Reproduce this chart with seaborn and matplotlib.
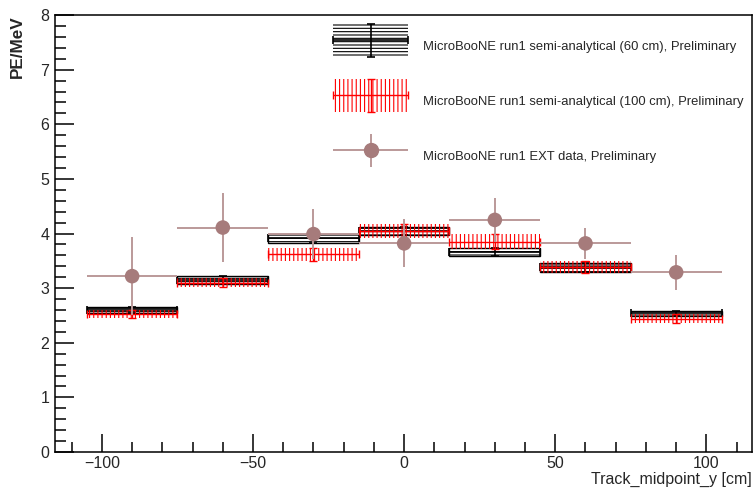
import numpy as np
import pandas as pd
import seaborn as sns
import matplotlib.pyplot as plt
from matplotlib.patches import Patch, Rectangle
from matplotlib.lines import Line2D
from matplotlib.ticker import MultipleLocator
from matplotlib.container import ErrorbarContainer
from matplotlib.legend_handler import HandlerErrorbar, HandlerPatch

# bin centres of Track_midpoint_y [cm], 30 cm wide
bin_centers = [-90, -60, -30, 0, 30, 60, 90]
bin_half = 15

# MicroBooNE run1 semi-analytical (60 cm)
sa60_y = [2.60, 3.15, 3.91, 4.05, 3.66, 3.38, 2.54]
sa60_err = [0.05, 0.08, 0.09, 0.07, 0.07, 0.08, 0.05]

# MicroBooNE run1 semi-analytical (100 cm)
sa100_y = [2.53, 3.10, 3.62, 4.05, 3.85, 3.38, 2.44]
sa100_err = [0.07, 0.08, 0.12, 0.13, 0.14, 0.11, 0.08]

# MicroBooNE run1 EXT data
ext_y = [3.22, 4.11, 3.99, 3.82, 4.25, 3.82, 3.29]
ext_err = [0.72, 0.63, 0.46, 0.44, 0.40, 0.29, 0.32]

labels = [
    "MicroBooNE run1 semi-analytical (60 cm), Preliminary",
    "MicroBooNE run1 semi-analytical (100 cm), Preliminary",
    "MicroBooNE run1 EXT data, Preliminary",
]

ext_df = pd.DataFrame({"x": bin_centers, "y": ext_y})

sns.set_style("white")
plt.rcParams["font.family"] = ["Liberation Sans", "DejaVu Sans"]
plt.rcParams["hatch.linewidth"] = 0.8

fig = plt.figure(figsize=(7.54, 4.92), dpi=100)
ax = fig.add_axes([0.073, 0.0813, 0.924, 0.888])

x = np.array(bin_centers)
black = "black"
red = "#ff0000"
brown = "#a67b7b"
brown_line = "#bb9999"

# 60 cm: box with horizontal hatch
y60 = np.array(sa60_y)
e60 = np.array(sa60_err)
ax.bar(x, 2 * e60, bottom=y60 - e60, width=2 * bin_half, facecolor="white",
       edgecolor=black, hatch="-----", linewidth=1.0, zorder=2)
eb60 = ax.errorbar(x, y60, xerr=bin_half, yerr=e60, fmt="none", ecolor=black,
                   elinewidth=1.2, capsize=3, capthick=1.2, zorder=3)

# 100 cm: vertical red hatch
y100 = np.array(sa100_y)
e100 = np.array(sa100_err)
ax.bar(x, 2 * e100, bottom=y100 - e100, width=2 * bin_half, fill=False,
       edgecolor=red, hatch="||||", linewidth=0, zorder=4)
eb100 = ax.errorbar(x, y100, xerr=bin_half, yerr=e100, fmt="none", ecolor=red,
                    elinewidth=1.0, capsize=3, capthick=1.0, zorder=5)

# EXT data points
ebext = ax.errorbar(x, ext_y, xerr=bin_half, yerr=ext_err, fmt="none",
                    ecolor=brown_line, elinewidth=1.4, zorder=6)
sns.scatterplot(data=ext_df, x="x", y="y", ax=ax, s=110, color=brown,
                edgecolor="none", legend=False, zorder=7)

ax.set_xlim(-115.5, 115)
ax.set_ylim(0, 8)
ax.xaxis.set_major_locator(MultipleLocator(50))
ax.xaxis.set_minor_locator(MultipleLocator(10))
ax.yaxis.set_major_locator(MultipleLocator(1))
ax.yaxis.set_minor_locator(MultipleLocator(0.2))
ax.tick_params(which="both", direction="in", top=False, right=False,
               left=True, bottom=True, labelsize=11.5, width=1.1, color="black")
ax.tick_params(which="major", axis="y", length=14, pad=4)
ax.tick_params(which="minor", axis="y", length=8)
ax.tick_params(which="major", axis="x", length=13, pad=3)
ax.tick_params(which="minor", axis="x", length=7)
for sp in ax.spines.values():
    sp.set_color("black")
    sp.set_linewidth(1.1)

ax.set_xlabel("Track_midpoint_y [cm]", fontsize=11.5, loc="right")
ax.xaxis.set_label_coords(1.0, -0.045)
ax.set_ylabel("PE/MeV", fontsize=12.3, fontweight="bold", loc="top")
ax.yaxis.set_label_coords(-0.043, 1.0)

ERR_HALF = 1.26  # legend box half height, in font-size units


def centered_box(legend, orig_handle, xdescent, ydescent, width, height, fontsize):
    # keep the hatched box centred on the error bar drawn by HandlerErrorbar
    yc = (height - ydescent) / 2
    h = 2 * ERR_HALF * fontsize
    return Rectangle((-xdescent, yc - h / 2), width, h)


h60 = (Patch(facecolor="white", edgecolor=black, hatch="-----", linewidth=0), eb60)
h100 = (Patch(fill=False, edgecolor=red, hatch="||||", linewidth=0), eb100)
hext = (ebext, Line2D([], [], marker="o", color=brown, markersize=10, linestyle="none"))
ax.legend([h60, h100, hext], labels, loc="upper left", bbox_to_anchor=(0.386, 0.986),
          frameon=False, fontsize=9.4, handlelength=5.75, handleheight=3.5,
          labelspacing=1.68, handletextpad=1.15, borderaxespad=0.3,
          handler_map={ErrorbarContainer: HandlerErrorbar(xerr_size=2.87, yerr_size=ERR_HALF),
                       Patch: HandlerPatch(patch_func=centered_box)})

fig.savefig("out.png", dpi=100)
